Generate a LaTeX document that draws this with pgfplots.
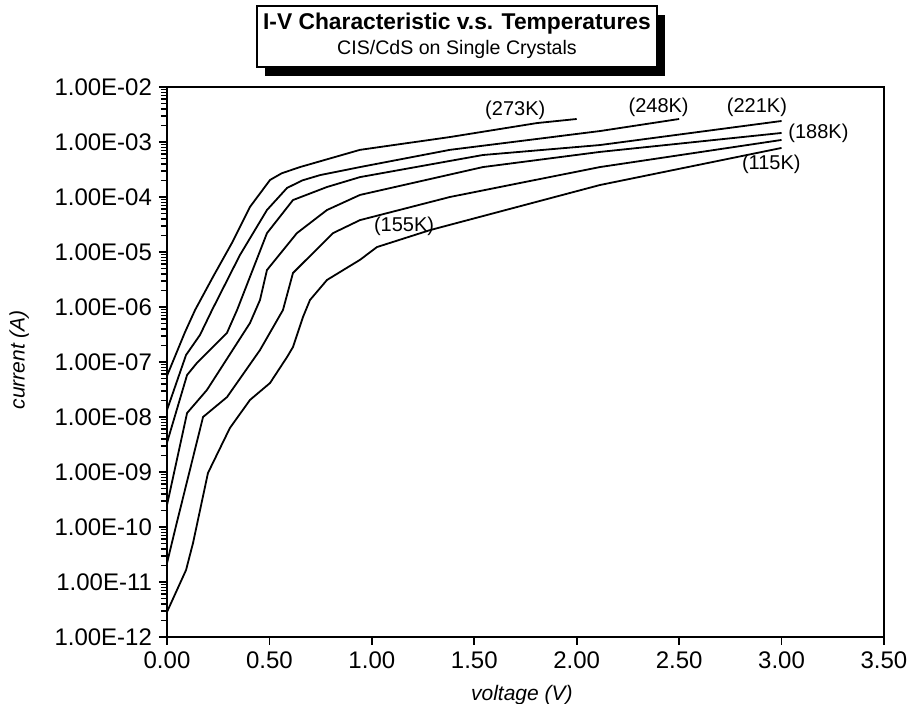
\documentclass[border=0pt]{standalone}
\usepackage{pgfplots}
\pgfplotsset{compat=1.18}
\usepackage{fontspec}
\setmainfont{Liberation Sans}
\begin{document}
\begin{tikzpicture}[x=1pt,y=1pt]
\useasboundingbox (-83.5,-33.5) rectangle (372.5,318.5);
% title box with shadow
\fill[black] (49,280.5) rectangle (249,311);
\draw[fill=white, line width=0.9pt] (45,285) rectangle (245,315.5);
\node[font=\fontsize{11.4}{13}\selectfont\bfseries] at (145,306.5) {I-V Characteristic v.s. Temperatures};
\node[font=\fontsize{9.8}{11}\selectfont] at (145,294) {CIS/CdS on Single Crystals};
\begin{axis}[
  at={(0,0)}, anchor=south west,
  scale only axis, width=358.5pt, height=275pt,
  ymode=log,
  xmin=0, xmax=3.5, ymin=1e-12, ymax=1e-2,
  xtick={0,0.5,1,1.5,2,2.5,3,3.5},
  xticklabels={0.00,0.50,1.00,1.50,2.00,2.50,3.00,3.50},
  ytick={1e-12,1e-11,1e-10,1e-9,1e-8,1e-7,1e-6,1e-5,1e-4,1e-3,1e-2},
  yticklabels={1.00E-12,1.00E-11,1.00E-10,1.00E-09,1.00E-08,1.00E-07,1.00E-06,1.00E-05,1.00E-04,1.00E-03,1.00E-02},
  minor ytick={2e-12,3e-12,4e-12,5e-12,6e-12,7e-12,8e-12,9e-12,
    2e-11,3e-11,4e-11,5e-11,6e-11,7e-11,8e-11,9e-11,
    2e-10,3e-10,4e-10,5e-10,6e-10,7e-10,8e-10,9e-10,
    2e-9,3e-9,4e-9,5e-9,6e-9,7e-9,8e-9,9e-9,
    2e-8,3e-8,4e-8,5e-8,6e-8,7e-8,8e-8,9e-8,
    2e-7,3e-7,4e-7,5e-7,6e-7,7e-7,8e-7,9e-7,
    2e-6,3e-6,4e-6,5e-6,6e-6,7e-6,8e-6,9e-6,
    2e-5,3e-5,4e-5,5e-5,6e-5,7e-5,8e-5,9e-5,
    2e-4,3e-4,4e-4,5e-4,6e-4,7e-4,8e-4,9e-4,
    2e-3,3e-3,4e-3,5e-3,6e-3,7e-3,8e-3,9e-3},
  tick align=outside,
  xtick pos=left, ytick pos=left,
  major tick length=4pt, minor tick length=3pt,
  axis line style={line width=1pt},
  every tick/.style={black, line width=0.8pt},
  tick label style={font=\fontsize{12}{14}\selectfont},
  xlabel={voltage (V)},
  ylabel={current (A)},
  xlabel style={font=\fontsize{10.5}{12}\selectfont\itshape, at={(axis description cs:0.495,-0.105)}, anchor=center},
  ylabel style={font=\fontsize{10.5}{12}\selectfont\itshape, at={(axis description cs:-0.206,0.504)}, anchor=center, rotate=0},
]
% 273K
\addplot[black, line width=0.9pt, mark=none] coordinates {
(0,5.6e-8) (0.088,3.5e-7) (0.137,8.8e-7) (0.224,3.5e-6) (0.317,1.46e-5) (0.405,6.6e-5)
(0.503,2.04e-4) (0.56,2.7e-4) (0.649,3.5e-4) (0.942,7.2e-4) (1.381,1.23e-3) (1.806,2.21e-3) (2.0,2.62e-3)};
% 248K
\addplot[black, line width=0.9pt, mark=none] coordinates {
(0,1.34e-8) (0.093,1.34e-7) (0.161,3.1e-7) (0.220,8.8e-7) (0.356,8.8e-6) (0.488,5.8e-5)
(0.586,1.46e-4) (0.66,2.0e-4) (0.747,2.5e-4) (0.942,3.5e-4) (1.381,7.2e-4) (2.113,1.58e-3) (2.5,2.62e-3)};
% 221K
\addplot[black, line width=0.9pt, mark=none] coordinates {
(0,3.4e-9) (0.098,5.8e-8) (0.146,9.6e-8) (0.293,3.4e-7) (0.342,8.8e-7) (0.488,2.2e-5)
(0.615,8.8e-5) (0.781,1.52e-4) (0.942,2.3e-4) (1.542,5.8e-4) (2.113,8.8e-4) (3.0,2.41e-3)};
% 188K
\addplot[black, line width=0.9pt, mark=none] coordinates {
(0,2.5e-10) (0.098,1.18e-8) (0.195,3.1e-8) (0.405,5.1e-7) (0.454,1.34e-6) (0.488,4.7e-6)
(0.634,2.2e-5) (0.781,5.8e-5) (0.942,1.09e-4) (1.542,3.5e-4) (2.113,6.6e-4) (3.0,1.46e-3)};
% 155K
\addplot[black, line width=0.9pt, mark=none] coordinates {
(0,2.2e-11) (0.039,8.8e-11) (0.176,1e-8) (0.293,2.3e-8) (0.454,1.65e-7) (0.566,8.8e-7)
(0.615,4.15e-6) (0.810,2.2e-5) (0.942,3.8e-5) (1.381,1.0e-4) (2.113,3.5e-4) (3.0,1.09e-3)};
% 115K
\addplot[black, line width=0.9pt, mark=none] coordinates {
(0,2.85e-12) (0.093,1.65e-11) (0.127,5.1e-11) (0.200,9.6e-10) (0.307,6.3e-9) (0.405,2.04e-8)
(0.503,4.15e-8) (0.586,1.23e-7) (0.615,1.87e-7) (0.664,6.6e-7) (0.698,1.34e-6) (0.781,3.1e-6)
(0.942,7.2e-6) (1.025,1.23e-5) (1.284,2.5e-5) (2.113,1.65e-4) (3.0,7.8e-4)};
\node[font=\fontsize{10}{12}\selectfont] at (axis cs:1.70,3.7e-3) {(273K)};
\node[font=\fontsize{10}{12}\selectfont] at (axis cs:2.40,4.3e-3) {(248K)};
\node[font=\fontsize{10}{12}\selectfont] at (axis cs:2.88,4.3e-3) {(221K)};
\node[font=\fontsize{10}{12}\selectfont] at (axis cs:3.18,1.46e-3) {(188K)};
\node[font=\fontsize{10}{12}\selectfont] at (axis cs:2.95,4.0e-4) {(115K)};
\node[font=\fontsize{10}{12}\selectfont] at (axis cs:1.157,2.97e-5) {(155K)};
\end{axis}
\end{tikzpicture}
\end{document}
